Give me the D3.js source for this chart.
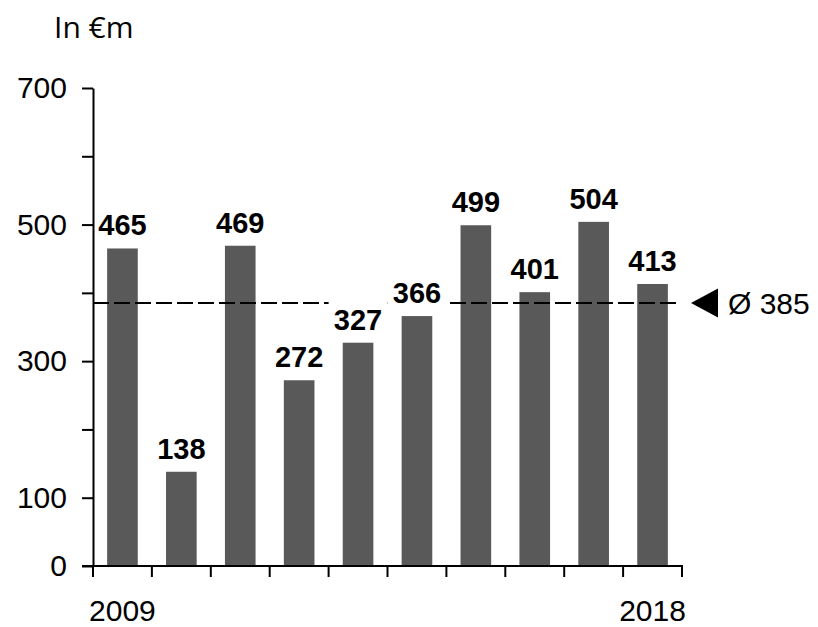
<!DOCTYPE html>
<html>
<head>
<meta charset="utf-8">
<script src="https://cdn.jsdelivr.net/npm/d3@7"></script>
<style>
  body { margin: 0; background: #fff; }
  svg { display: block; }
</style>
</head>
<body>
<svg id="chart" width="818" height="627"></svg>
<script>
const years = ["2009","2010","2011","2012","2013","2014","2015","2016","2017","2018"];
const values = [465, 138, 469, 272, 327, 366, 499, 401, 504, 413];
const yTickValues = [0, 100, 200, 300, 400, 500, 600, 700];
const yTickLabels = ["0", "100", "", "300", "", "500", "", "700"];
const xTickLabels = ["2009", "", "", "", "", "", "", "", "", "2018"];
const average = 385;
const unitLabel = "In €m";
const avgLabel = "Ø 385";

const svg = d3.select("#chart");
const x = d3.scaleBand().domain(years).range([93, 682]).paddingInner(0.48).paddingOuter(0.24);
const y = d3.scaleLinear().domain([0, 700]).range([566, 88]);
const step = x.step();
const half = (step - x.bandwidth()) / 2;

// bars
svg.append("g").selectAll("rect").data(values).join("rect")
  .attr("x", (d, i) => x(years[i]))
  .attr("y", d => y(d))
  .attr("width", x.bandwidth())
  .attr("height", d => y(0) - y(d))
  .attr("fill", "#595959");

// average dashed line
svg.append("line")
  .attr("x1", x.range()[0]).attr("x2", x.range()[1] - 5)
  .attr("y1", y(average)).attr("y2", y(average))
  .attr("stroke", "#000").attr("stroke-width", 2)
  .attr("stroke-dasharray", "16,5");

// label boxes (white)
svg.append("g").selectAll("rect").data(values).join("rect")
  .attr("x", (d, i) => x(years[i]) - half)
  .attr("y", d => y(d) - 44)
  .attr("width", step)
  .attr("height", 41)
  .attr("fill", "#fff");

// value labels
svg.append("g").selectAll("text").data(values).join("text")
  .attr("x", (d, i) => x(years[i]) + x.bandwidth() / 2)
  .attr("y", d => y(d) - 13)
  .attr("text-anchor", "middle")
  .attr("font-family", "Liberation Sans, Arial, sans-serif")
  .attr("font-weight", "bold")
  .attr("font-size", 29)
  .attr("fill", "#000")
  .text(d => d);

// y axis
const yAxis = d3.axisLeft(y).tickValues(yTickValues)
  .tickFormat((d, i) => yTickLabels[i]).tickSize(11).tickSizeOuter(0).tickPadding(15);
const gy = svg.append("g").attr("transform", "translate(93,0)").call(yAxis);
gy.selectAll("line").attr("stroke", "#000").attr("stroke-width", 2);
gy.select(".domain").attr("stroke", "#000").attr("stroke-width", 2);
gy.selectAll("text").attr("font-family", "Liberation Sans, Arial, sans-serif")
  .attr("font-size", 30).attr("fill", "#000");

// x axis line
svg.append("line")
  .attr("x1", 82).attr("x2", x.range()[1] + 1)
  .attr("y1", y(0)).attr("y2", y(0))
  .attr("stroke", "#000").attr("stroke-width", 2);

// x ticks at band boundaries
const boundaries = years.map(d => x(d) - half).concat([x.range()[1]]);
svg.append("g").selectAll("line").data(boundaries).join("line")
  .attr("x1", d => d).attr("x2", d => d)
  .attr("y1", y(0)).attr("y2", y(0) + 11)
  .attr("stroke", "#000").attr("stroke-width", 2);

// x labels
svg.append("g").selectAll("text").data(years).join("text")
  .attr("x", d => x(d) + x.bandwidth() / 2)
  .attr("y", 621)
  .attr("text-anchor", "middle")
  .attr("font-family", "Liberation Sans, Arial, sans-serif")
  .attr("font-size", 30)
  .attr("fill", "#000")
  .text((d, i) => xTickLabels[i]);

// average marker
const ay = y(average);
svg.append("path")
  .attr("d", `M691,${ay} L718,${ay - 14.5} L718,${ay + 14.5} Z`)
  .attr("fill", "#000");
svg.append("text")
  .attr("x", 728).attr("y", ay + 11)
  .attr("font-family", "Liberation Sans, Arial, sans-serif")
  .attr("font-size", 30).attr("fill", "#000")
  .text(avgLabel);

// unit label
svg.append("text")
  .attr("x", 54).attr("y", 38)
  .attr("font-family", "Open Sans, sans-serif")
  .attr("font-size", 30).attr("fill", "#000")
  .text(unitLabel);
</script>
</body>
</html>
